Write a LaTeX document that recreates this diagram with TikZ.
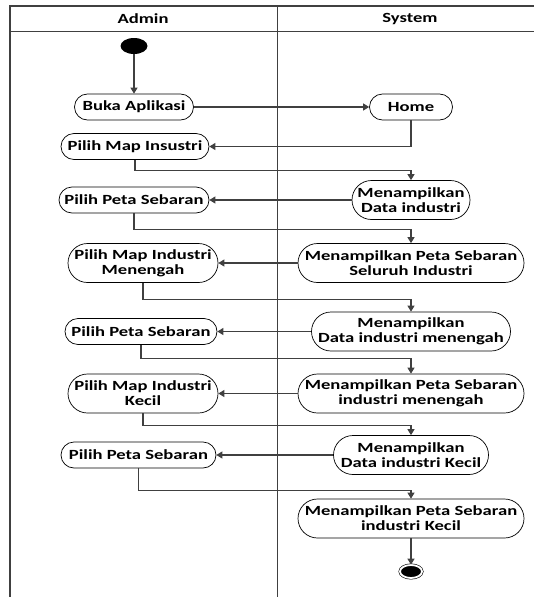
\documentclass[tikz,border=0pt]{standalone}
\usepackage{fontspec}
\setmainfont{Carlito}[FakeStretch=1.33]
\usetikzlibrary{arrows.meta,shapes.geometric}
\definecolor{linegray}{HTML}{404040}
\tikzset{
  lane/.style={draw=linegray, line width=1.2pt},
  act/.style={draw=black, line width=0.7pt, rounded corners=13pt, minimum height=26pt,
    inner sep=0pt, align=center, font=\fontsize{14}{14.8}\selectfont\bfseries},
  acttall/.style={act, rounded corners=19.5pt, minimum height=39pt},
  flow/.style={draw=linegray, line width=1.1pt, -{Triangle[width=7pt,length=6pt]}},
  startdot/.style={ellipse, fill=black, minimum width=27pt, minimum height=16pt, inner sep=0pt},
  enddot/.style={ellipse, fill=black, draw=black, line width=0.6pt, double=white,
    double distance=1.8pt, minimum width=22pt, minimum height=13pt, inner sep=0pt},
  head/.style={font=\fontsize{14}{14.8}\selectfont\bfseries}
}
\begin{document}
\begin{tikzpicture}[x=1pt,y=-1pt]
\useasboundingbox (0,0) rectangle (534,597);
% swimlanes
\draw[lane] (10,597) -- (10,6) -- (534,6);
\draw[lane] (10,31.5) -- (534,31.5);
\draw[lane] (277.5,6) -- (277.5,597);
\node[head] (admin) at (143,19) {Admin};
\node[head] (system) at (410,19) {System};

% activities
\node[startdot] (start) at (134,46) {};
\node[act, minimum width=119pt] (buka) at (134,107) {Buka Aplikasi};
\node[act, minimum width=83pt] (home) at (411,107) {Home};
\node[act, minimum width=148pt] (map1) at (135,146.5) {Pilih Map Insustri};
\node[acttall, minimum width=118pt] (data1) at (411,200) {Menampilkan\\Data industri};
\node[act, minimum width=150pt] (peta1) at (134,200) {Pilih Peta Sebaran};
\node[acttall, minimum width=226pt] (sebar1) at (411,263) {Menampilkan Peta Sebaran\\Seluruh Industri};
\node[acttall, minimum width=150pt] (map2) at (143,263) {Pilih Map Industri\\Menengah};
\node[acttall, minimum width=199pt] (data2) at (411,331.5) {Menampilkan\\Data industri menengah};
\node[act, minimum width=152pt] (peta2) at (141,331.5) {Pilih Peta Sebaran};
\node[acttall, minimum width=226pt] (sebar2) at (411,393.5) {Menampilkan Peta Sebaran\\industri menengah};
\node[acttall, minimum width=150pt] (map3) at (143,393.5) {Pilih Map Industri\\Kecil};
\node[acttall, minimum width=155pt] (data3) at (411,455) {Menampilkan\\Data industri Kecil};
\node[act, minimum width=155pt] (peta3) at (138.5,455) {Pilih Peta Sebaran};
\node[acttall, minimum width=226pt] (sebar3) at (411,518.5) {Menampilkan Peta Sebaran\\industri Kecil};
\node[enddot] (end) at (411,571.5) {};

% control flow
\draw[flow] (start) -- (buka);
\draw[flow] (buka) -- (home);
\draw[flow] (home) |- (map1);
\draw[flow] (map1.south) -- ++(0,11) -| (data1.north);
\draw[flow] (data1) -- (peta1);
\draw[flow] (peta1.south) -- ++(0,16) -| (sebar1.north);
\draw[flow] (sebar1) -- (map2);
\draw[flow] (map2.south) -- ++(0,17) -| (data2.north);
\draw[flow] (data2) -- (peta2);
\draw[flow] (peta2.south) -- ++(0,14) -| (sebar2.north);
\draw[flow] (sebar2) -- (map3);
\draw[flow] (map3.south) -- ++(0,12) -| (data3.north);
\draw[flow] (data3) -- (peta3);
\draw[flow] (peta3.south) -- ++(0,22) -| (sebar3.north);
\draw[flow] (sebar3) -- (end);
\end{tikzpicture}
\end{document}
